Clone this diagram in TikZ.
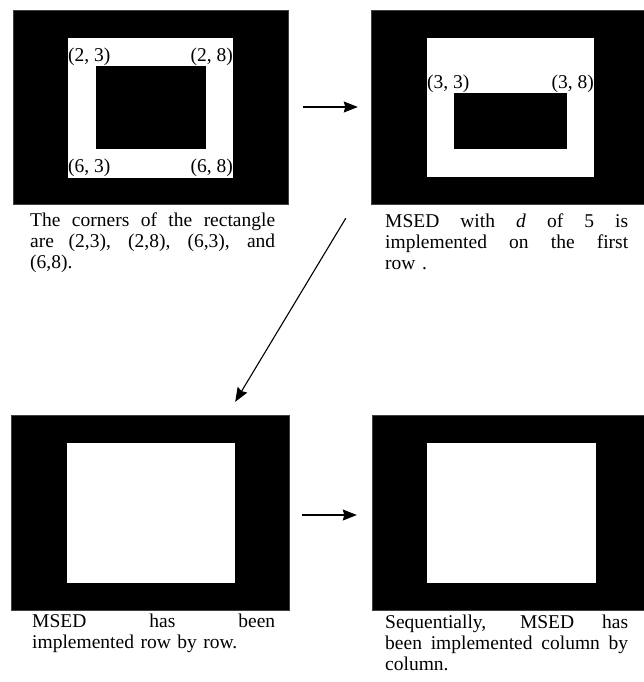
\documentclass[tikz,border=0pt]{standalone}
\usepackage{fontspec}
\setmainfont{Liberation Serif}
\usetikzlibrary{arrows.meta,calc}
\hbadness=10000
\begin{document}
\begin{tikzpicture}[x=1pt,y=-1pt,
  txt/.style={font=\fontsize{19.5}{21}\selectfont},
  outerbox/.style={fill=black,draw=black!75,line width=0.5pt},
  hole/.style={fill=white},
  corner/.style={txt,inner sep=0pt},
  caption/.style={txt,inner sep=0pt,anchor=base west,text width=#1,align=left},
  conn/.style={line width=1.1pt,-{Stealth[length=14pt,width=11pt,inset=1.5pt]}}
]
% a full-width line with its word spaces stretched
\newcommand{\jline}[2]{{\spaceskip=0pt\xspaceskip=0pt\makebox[#1][s]{#2}}}
\useasboundingbox (0,0) rectangle (644,682);

% step 1: frame with the marked rectangle
\draw[outerbox] (13,10) rectangle (288,204);
\fill[hole] (68,38) rectangle (233,178);
\fill[black] (96,66) rectangle (206,149);
\node[inner sep=0pt,minimum width=275pt,minimum height=194pt] (p1) at (150.5,107) {};
\node[corner,anchor=base west] (l23) at (68,62) {(2, 3)};
\node[corner,anchor=base east] (l28) at (233,62) {(2, 8)};
\node[corner,anchor=base west] (l63) at (68,172) {(6, 3)};
\node[corner,anchor=base east] (l68) at (233,172) {(6, 8)};
\node[caption=245pt] (c1) at (30,226) {\jline{245pt}{The corners of the rectangle}\\
  \jline{245pt}{are (2,3), (2,8), (6,3), and}\\ (6,8).};

% step 2: first row processed
\draw[outerbox] (371,10) rectangle (644,204);
\fill[hole] (427,38) rectangle (594,177);
\fill[black] (454,93) rectangle (567,149);
\node[inner sep=0pt,minimum width=273pt,minimum height=194pt] (p2) at (507.5,107) {};
\node[corner,anchor=base west] (l33) at (427,89) {(3, 3)};
\node[corner,anchor=base east] (l38) at (594,89) {(3, 8)};
\node[caption=243pt] (c2) at (385,227) {\jline{243pt}{MSED with \textit{d} of 5 is}\\
  \jline{243pt}{implemented on the first}\\ row .};

% step 3: all rows processed
\draw[outerbox] (11,415) rectangle (289,610);
\fill[hole] (67,443) rectangle (235,583);
\node[inner sep=0pt,minimum width=278pt,minimum height=195pt] (p3) at (150,512.5) {};
\node[caption=243pt] (c3) at (32,627) {\jline{243pt}{MSED has been}\\
  implemented row by row.};

% step 4: all columns processed
\draw[outerbox] (372,415) rectangle (644,610);
\fill[hole] (427,443) rectangle (596,583);
\node[inner sep=0pt,minimum width=272pt,minimum height=195pt] (p4) at (508,512.5) {};
\node[caption=243pt] (c4) at (385,628) {\jline{243pt}{Sequentially, MSED has}\\
  \jline{243pt}{been implemented column by}\\ column.};

% flow between the steps
\draw[conn] ([xshift=15pt]p1.east) -- ([xshift=-13pt]p2.west);
\coordinate (d1) at ($(p2.south west)+(-25,14)$);
\draw[conn] (d1) -- ([xshift=-54pt,yshift=13pt]p3.north east);
\draw[conn] ([xshift=13pt,yshift=-2.5pt]p3.east) -- ([xshift=-15pt,yshift=-2.5pt]p4.west);
\end{tikzpicture}
\end{document}
